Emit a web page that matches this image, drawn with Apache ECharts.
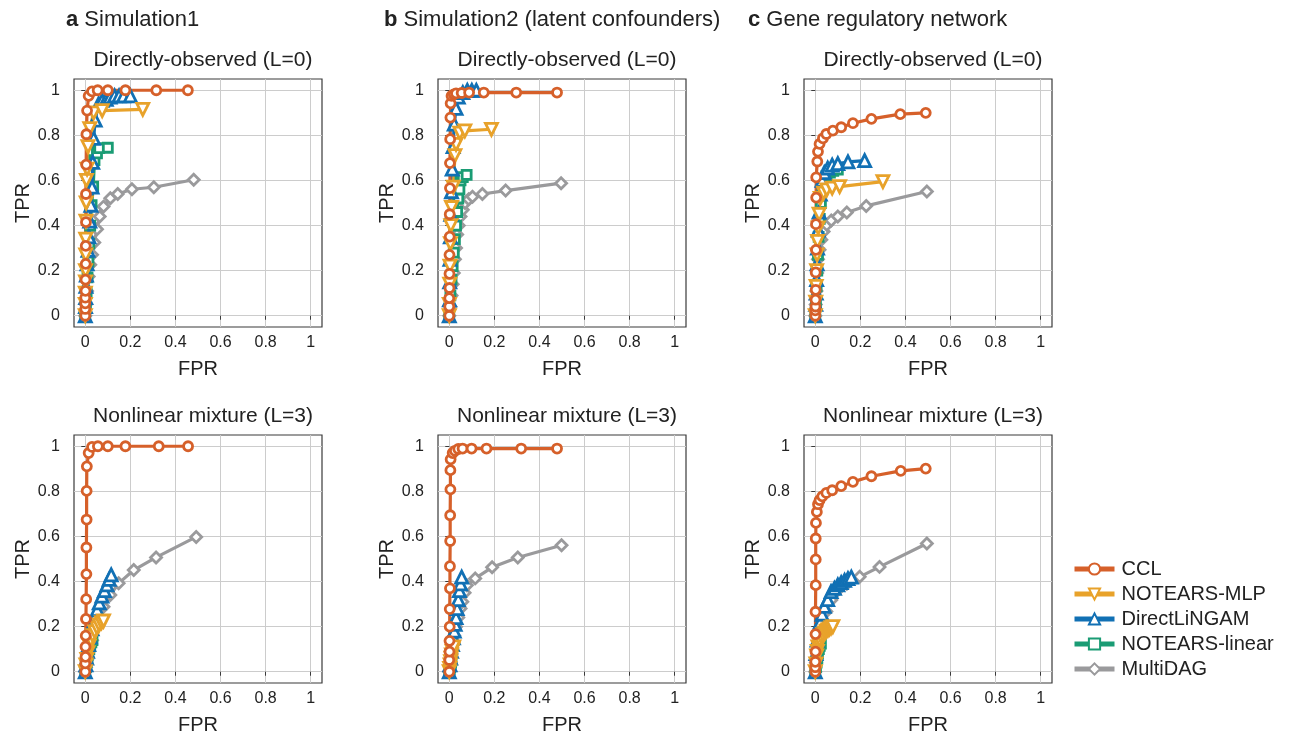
<!DOCTYPE html>
<html>
<head>
<meta charset="utf-8">
<script src="https://cdn.jsdelivr.net/npm/echarts@6/dist/echarts.min.js"></script>
<style>
html,body{margin:0;padding:0;background:#fff;}
#chart{width:1294px;height:738px;}
</style>
</head>
<body>
<div id="chart"></div>
<script>
// ---------- labels ----------
const methods = ['CCL', 'NOTEARS-MLP', 'DirectLiNGAM', 'NOTEARS-linear', 'MultiDAG'];
const columnLetters = ['a', 'b', 'c'];
const columnHeaders = ['Simulation1', 'Simulation2 (latent confounders)', 'Gene regulatory network'];
const rowTitles = ['Directly-observed (L=0)', 'Nonlinear mixture (L=3)'];
const tickValues = [0, 0.2, 0.4, 0.6, 0.8, 1];
const xAxisName = 'FPR';
const yAxisName = 'TPR';

// ---------- panel a, top (Simulation1, L=0) ----------
const a0_CCL_fpr = [0,0,0,0,0.001,0.001,0.002,0.002,0.003,0.003,0.004,0.005,0.008,0.015,0.03,0.055,0.1,0.178,0.315,0.455];
const a0_CCL_tpr = [0,0.03,0.055,0.08,0.11,0.16,0.23,0.31,0.415,0.54,0.67,0.805,0.91,0.975,0.995,1,1,1,1,1];
const a0_MLP_fpr = [0,0,0,0.001,0.001,0.002,0.002,0.003,0.004,0.005,0.008,0.012,0.02,0.037,0.075,0.255];
const a0_MLP_tpr = [0,0.05,0.1,0.15,0.2,0.27,0.34,0.42,0.5,0.6,0.65,0.75,0.83,0.9,0.91,0.915];
const a0_LiNGAM_fpr = [0,0.001,0.002,0.003,0.005,0.008,0.012,0.016,0.02,0.025,0.03,0.033,0.037,0.044,0.059,0.075,0.093,0.11,0.13,0.15,0.17,0.2];
const a0_LiNGAM_tpr = [0,0.04,0.08,0.13,0.18,0.23,0.29,0.35,0.42,0.49,0.57,0.68,0.787,0.868,0.94,0.955,0.96,0.97,0.975,0.975,0.975,0.975];
const a0_LIN_fpr = [0,0.003,0.006,0.01,0.014,0.018,0.022,0.028,0.035,0.041,0.052,0.062,0.1];
const a0_LIN_tpr = [0,0.05,0.1,0.17,0.24,0.32,0.4,0.49,0.573,0.69,0.72,0.743,0.745];
const a0_MD_fpr = [0,0.003,0.008,0.015,0.022,0.03,0.04,0.052,0.064,0.081,0.111,0.144,0.207,0.304,0.481];
const a0_MD_tpr = [0,0.05,0.11,0.174,0.226,0.27,0.325,0.384,0.44,0.484,0.521,0.54,0.561,0.57,0.603];

// ---------- panel b, top (Simulation2, L=0) ----------
const b0_CCL_fpr = [0,0,0,0.001,0.001,0.001,0.002,0.002,0.003,0.003,0.004,0.005,0.006,0.01,0.02,0.03,0.055,0.088,0.153,0.297,0.478];
const b0_CCL_tpr = [0,0.041,0.078,0.123,0.186,0.27,0.351,0.45,0.566,0.677,0.783,0.879,0.942,0.975,0.982,0.986,0.988,0.99,0.99,0.99,0.99];
const b0_MLP_fpr = [0,0,0.002,0.003,0.005,0.007,0.01,0.018,0.025,0.03,0.047,0.069,0.187];
const b0_MLP_tpr = [0,0.05,0.14,0.22,0.32,0.4,0.48,0.57,0.71,0.76,0.81,0.82,0.827];
const b0_LiNGAM_fpr = [0,0.001,0.002,0.003,0.005,0.007,0.01,0.013,0.017,0.022,0.03,0.04,0.06,0.08,0.1,0.12];
const b0_LiNGAM_tpr = [0,0.07,0.15,0.25,0.35,0.45,0.55,0.65,0.75,0.85,0.92,0.97,0.99,1,1,1];
const b0_LIN_fpr = [0,0.005,0.01,0.015,0.02,0.025,0.03,0.035,0.04,0.045,0.05,0.06,0.077];
const b0_LIN_tpr = [0,0.09,0.16,0.22,0.28,0.34,0.4,0.46,0.52,0.56,0.6,0.615,0.625];
const b0_MD_fpr = [0,0.005,0.01,0.015,0.02,0.025,0.03,0.035,0.042,0.05,0.06,0.07,0.086,0.103,0.147,0.25,0.496];
const b0_MD_tpr = [0,0.04,0.09,0.14,0.19,0.25,0.3,0.36,0.4,0.44,0.47,0.5,0.517,0.528,0.54,0.555,0.588];

// ---------- panel c, top (Gene regulatory network, L=0) ----------
const c0_CCL_fpr = [0,0,0.001,0.001,0.002,0.002,0.003,0.003,0.004,0.004,0.009,0.012,0.019,0.034,0.049,0.078,0.115,0.167,0.249,0.377,0.49];
const c0_CCL_tpr = [0,0.024,0.041,0.071,0.115,0.192,0.292,0.406,0.524,0.614,0.684,0.728,0.762,0.787,0.806,0.821,0.836,0.854,0.873,0.894,0.9];
const c0_MLP_fpr = [0,0.002,0.004,0.006,0.008,0.01,0.013,0.017,0.022,0.037,0.051,0.075,0.108,0.3];
const c0_MLP_tpr = [0,0.06,0.13,0.2,0.27,0.33,0.39,0.45,0.52,0.544,0.558,0.566,0.573,0.595];
const c0_LiNGAM_fpr = [0,0.002,0.004,0.006,0.008,0.01,0.013,0.017,0.022,0.03,0.04,0.055,0.075,0.1,0.145,0.219];
const c0_LiNGAM_tpr = [0,0.05,0.1,0.16,0.23,0.3,0.38,0.46,0.54,0.6,0.635,0.655,0.668,0.675,0.682,0.688];
const c0_LIN_fpr = [0,0.003,0.006,0.009,0.012,0.015,0.02,0.025,0.032,0.04,0.05,0.065,0.08,0.1];
const c0_LIN_tpr = [0,0.06,0.13,0.2,0.27,0.35,0.43,0.5,0.56,0.6,0.62,0.635,0.643,0.648];
const c0_MD_fpr = [0,0.002,0.005,0.008,0.012,0.019,0.027,0.037,0.051,0.071,0.1,0.14,0.226,0.495];
const c0_MD_tpr = [0,0.05,0.11,0.19,0.25,0.293,0.337,0.374,0.403,0.422,0.44,0.458,0.487,0.551];

// ---------- panel a, bottom (Simulation1, L=3) ----------
const a1_CCL_fpr = [0,0,0.001,0.001,0.002,0.003,0.004,0.005,0.005,0.006,0.006,0.007,0.015,0.03,0.056,0.1,0.178,0.326,0.456];
const a1_CCL_tpr = [0,0.037,0.066,0.111,0.16,0.234,0.322,0.433,0.551,0.675,0.802,0.911,0.97,0.997,1,1,1,1,1];
const a1_MLP_fpr = [0,0.003,0.007,0.012,0.018,0.025,0.033,0.042,0.052,0.062,0.072,0.081];
const a1_MLP_tpr = [0,0.03,0.055,0.085,0.115,0.14,0.16,0.178,0.195,0.208,0.218,0.225];
const a1_LiNGAM_fpr = [0,0.003,0.006,0.01,0.015,0.022,0.03,0.037,0.045,0.053,0.062,0.074,0.085,0.096,0.106,0.115];
const a1_LiNGAM_tpr = [0,0.03,0.06,0.09,0.12,0.155,0.19,0.22,0.25,0.275,0.305,0.335,0.36,0.385,0.41,0.43];
const a1_LIN_fpr = [0,0.003,0.006,0.01,0.014,0.018,0.022,0.027,0.032];
const a1_LIN_tpr = [0,0.02,0.04,0.06,0.08,0.1,0.115,0.13,0.14];
const a1_MD_fpr = [0,0.003,0.006,0.015,0.03,0.044,0.059,0.081,0.111,0.148,0.215,0.314,0.492];
const a1_MD_tpr = [0,0.02,0.05,0.09,0.14,0.192,0.244,0.288,0.34,0.392,0.451,0.507,0.598];

// ---------- panel b, bottom (Simulation2, L=3) ----------
const b1_CCL_fpr = [0,0,0.001,0.001,0.002,0.002,0.003,0.003,0.004,0.004,0.005,0.005,0.006,0.015,0.025,0.04,0.059,0.099,0.165,0.319,0.478];
const b1_CCL_tpr = [0,0.052,0.089,0.137,0.2,0.278,0.37,0.468,0.58,0.694,0.809,0.894,0.942,0.97,0.98,0.988,0.99,0.99,0.99,0.99,0.99];
const b1_MLP_fpr = [0,0.002,0.004,0.006,0.008,0.01,0.013,0.016,0.02];
const b1_MLP_tpr = [0,0.015,0.03,0.045,0.06,0.075,0.09,0.1,0.11];
const b1_LiNGAM_fpr = [0,0.003,0.006,0.01,0.014,0.018,0.022,0.026,0.03,0.035,0.04,0.045,0.05,0.055];
const b1_LiNGAM_tpr = [0,0.03,0.06,0.09,0.12,0.15,0.18,0.21,0.24,0.28,0.32,0.36,0.39,0.42];
const b1_LIN_fpr = [0,0.002,0.004,0.006,0.008,0.01];
const b1_LIN_tpr = [0,0.01,0.02,0.03,0.04,0.05];
const b1_MD_fpr = [0,0.004,0.01,0.016,0.022,0.03,0.04,0.05,0.058,0.068,0.078,0.115,0.19,0.304,0.498];
const b1_MD_tpr = [0,0.04,0.08,0.12,0.16,0.2,0.24,0.28,0.31,0.35,0.384,0.414,0.463,0.507,0.561];

// ---------- panel c, bottom (Gene regulatory network, L=3) ----------
const c1_CCL_fpr = [0,0,0,0.001,0.001,0.001,0.002,0.002,0.002,0.003,0.007,0.012,0.019,0.031,0.049,0.075,0.115,0.167,0.249,0.379,0.49];
const c1_CCL_tpr = [0,0.02,0.044,0.089,0.167,0.266,0.384,0.498,0.591,0.66,0.709,0.743,0.761,0.778,0.793,0.805,0.823,0.842,0.867,0.891,0.901];
const c1_MLP_fpr = [0,0.003,0.006,0.009,0.012,0.016,0.02,0.027,0.034,0.042,0.049,0.056,0.063,0.07,0.078];
const c1_MLP_tpr = [0,0.035,0.07,0.09,0.11,0.125,0.14,0.153,0.165,0.172,0.18,0.185,0.19,0.195,0.2];
const c1_LiNGAM_fpr = [0,0.003,0.008,0.015,0.022,0.03,0.04,0.055,0.07,0.085,0.1,0.115,0.13,0.145,0.16];
const c1_LiNGAM_tpr = [0,0.08,0.14,0.19,0.22,0.255,0.29,0.32,0.355,0.37,0.385,0.395,0.405,0.413,0.42];
const c1_LIN_fpr = [0,0.003,0.006,0.009,0.012,0.016,0.02,0.025];
const c1_LIN_tpr = [0,0.02,0.04,0.06,0.08,0.1,0.115,0.125];
const c1_MD_fpr = [0,0.003,0.008,0.016,0.031,0.049,0.071,0.1,0.14,0.197,0.285,0.495];
const c1_MD_tpr = [0,0.04,0.09,0.15,0.2,0.267,0.318,0.362,0.39,0.421,0.465,0.569];

// ---------- assembling ----------
const panelData = [
  // order of panels: a-top, b-top, c-top, a-bottom, b-bottom, c-bottom
  {CCL:[a0_CCL_fpr,a0_CCL_tpr], MLP:[a0_MLP_fpr,a0_MLP_tpr], LiNGAM:[a0_LiNGAM_fpr,a0_LiNGAM_tpr], LIN:[a0_LIN_fpr,a0_LIN_tpr], MD:[a0_MD_fpr,a0_MD_tpr]},
  {CCL:[b0_CCL_fpr,b0_CCL_tpr], MLP:[b0_MLP_fpr,b0_MLP_tpr], LiNGAM:[b0_LiNGAM_fpr,b0_LiNGAM_tpr], LIN:[b0_LIN_fpr,b0_LIN_tpr], MD:[b0_MD_fpr,b0_MD_tpr]},
  {CCL:[c0_CCL_fpr,c0_CCL_tpr], MLP:[c0_MLP_fpr,c0_MLP_tpr], LiNGAM:[c0_LiNGAM_fpr,c0_LiNGAM_tpr], LIN:[c0_LIN_fpr,c0_LIN_tpr], MD:[c0_MD_fpr,c0_MD_tpr]},
  {CCL:[a1_CCL_fpr,a1_CCL_tpr], MLP:[a1_MLP_fpr,a1_MLP_tpr], LiNGAM:[a1_LiNGAM_fpr,a1_LiNGAM_tpr], LIN:[a1_LIN_fpr,a1_LIN_tpr], MD:[a1_MD_fpr,a1_MD_tpr]},
  {CCL:[b1_CCL_fpr,b1_CCL_tpr], MLP:[b1_MLP_fpr,b1_MLP_tpr], LiNGAM:[b1_LiNGAM_fpr,b1_LiNGAM_tpr], LIN:[b1_LIN_fpr,b1_LIN_tpr], MD:[b1_MD_fpr,b1_MD_tpr]},
  {CCL:[c1_CCL_fpr,c1_CCL_tpr], MLP:[c1_MLP_fpr,c1_MLP_tpr], LiNGAM:[c1_LiNGAM_fpr,c1_LiNGAM_tpr], LIN:[c1_LIN_fpr,c1_LIN_tpr], MD:[c1_MD_fpr,c1_MD_tpr]}
];

const FONT = 'Liberation Sans, Arial, Helvetica, sans-serif';
const styleByKey = {
  CCL:    {name: methods[0], color: '#D6602A', symbol: 'circle',   size: 9,  rotate: 0},
  MLP:    {name: methods[1], color: '#E8A22A', symbol: 'triangle', size: 12, rotate: 180},
  LiNGAM: {name: methods[2], color: '#1170B4', symbol: 'triangle', size: 12, rotate: 0},
  LIN:    {name: methods[3], color: '#1A9C74', symbol: 'rect',     size: 9,  rotate: 0},
  MD:     {name: methods[4], color: '#9A9A9C', symbol: 'diamond',  size: 11, rotate: 0}
};
const drawOrder = ['MD', 'LIN', 'LiNGAM', 'MLP', 'CCL'];

const colLeft = [74, 438, 804];
const rowTop = [79, 435];
const plotW = 248, plotH = 248;

const grids = [], xAxes = [], yAxes = [], series = [], titles = [];

for (let p = 0; p < 6; p++) {
  const col = p % 3, row = Math.floor(p / 3);
  grids.push({
    left: colLeft[col], top: rowTop[row], width: plotW, height: plotH,
    show: true, borderColor: '#3a3a3a', borderWidth: 1.2, backgroundColor: 'transparent'
  });
  const axisCommon = {
    gridIndex: p, type: 'value', min: -0.05, max: 1.05,
    axisLine: {show: false},
    axisTick: {show: true, inside: false, length: 4, lineStyle: {color: '#3a3a3a', width: 1}, customValues: tickValues},
    axisLabel: {customValues: tickValues, color: '#222', fontSize: 16, fontFamily: FONT,
                formatter: v => String(Math.round(v * 10) / 10)},
    splitLine: {show: true, lineStyle: {color: '#cccccc', width: 1}},
    nameTextStyle: {color: '#222', fontSize: 20, fontFamily: FONT}
  };
  xAxes.push(Object.assign({}, axisCommon, {
    position: 'bottom', name: xAxisName, nameLocation: 'middle', nameGap: 32,
    axisLabel: Object.assign({}, axisCommon.axisLabel, {margin: 8})
  }));
  yAxes.push(Object.assign({}, axisCommon, {
    position: 'left', name: yAxisName, nameLocation: 'middle', nameGap: 37,
    axisLabel: Object.assign({}, axisCommon.axisLabel, {margin: 14})
  }));
  titles.push({
    text: rowTitles[row], left: colLeft[col] + plotW / 2, textAlign: 'center', top: rowTop[row] - 34,
    textStyle: {fontSize: 21, fontWeight: 'normal', color: '#222', fontFamily: FONT}
  });
  for (const key of drawOrder) {
    const st = styleByKey[key];
    const [fx, ty] = panelData[p][key];
    series.push({
      type: 'line', name: st.name, xAxisIndex: p, yAxisIndex: p,
      data: fx.map((x, i) => [x, ty[i]]),
      symbol: st.symbol, symbolSize: st.size, symbolRotate: st.rotate,
      showAllSymbol: true, clip: false,
      lineStyle: {color: st.color, width: 3.2},
      itemStyle: {color: '#ffffff', borderColor: st.color, borderWidth: 2.8},
      emphasis: {disabled: true}, silent: true
    });
  }
}

const headerLeft = [61, 379, 743];
for (let c = 0; c < 3; c++) {
  titles.push({
    text: '{b|' + columnLetters[c] + '} ' + columnHeaders[c],
    left: headerLeft[c], top: 4,
    textStyle: {fontSize: 22, fontWeight: 'normal', color: '#222', fontFamily: FONT,
      rich: {b: {fontSize: 22, fontWeight: 'bold', color: '#222', fontFamily: FONT}}}
  });
}

const chart = echarts.init(document.getElementById('chart'), null, {renderer: 'canvas'});
chart.setOption({
  animation: false,
  backgroundColor: '#ffffff',
  title: titles,
  grid: grids,
  xAxis: xAxes,
  yAxis: yAxes,
  legend: {
    data: methods, orient: 'vertical', left: 1067, top: 554,
    itemWidth: 40, itemHeight: 14, itemGap: 5,
    lineStyle: {width: 5},
    textStyle: {fontSize: 20, color: '#222', fontFamily: FONT, padding: [0, 0, 0, 2]},
    selectedMode: false
  },
  series: series
});
</script>
</body>
</html>
